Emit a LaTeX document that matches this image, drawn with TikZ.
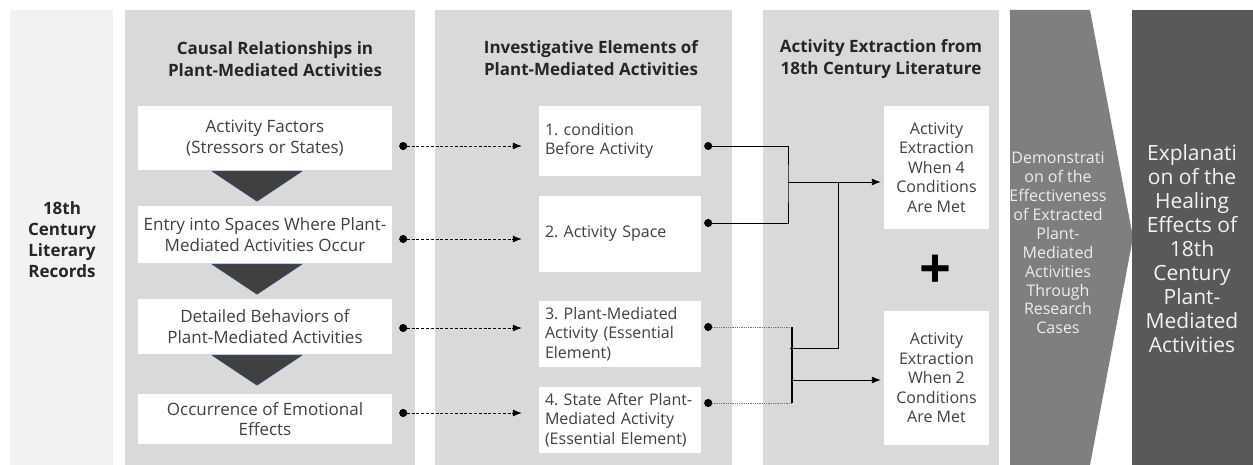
\documentclass[tikz,border=0pt]{standalone}
\usepackage{fontspec}
\setmainfont{Open Sans}
\usetikzlibrary{arrows.meta,calc}
\definecolor{sidegray}{HTML}{F2F2F2}
\definecolor{panelgray}{HTML}{D9D9D9}
\definecolor{chevrongray}{HTML}{7F7F7F}
\definecolor{outcomegray}{HTML}{595959}
\definecolor{textgray}{HTML}{404040}
\definecolor{wedgeblue}{HTML}{2F4B7C}

\begin{document}
\begin{tikzpicture}[x=1pt,y=-1pt,>=Latex]
\tikzset{title/.style={font=\bfseries\fontsize{17}{22}\selectfont,text=black!85,align=center},
  stagebox/.style={fill=white,text=textgray,align=center,inner sep=0pt,minimum width=254,font=\fontsize{17}{20.5}\selectfont},
  elembox/.style={fill=white,text=textgray,align=left,inner xsep=6,inner ysep=0pt,text width=150,font=\frenchspacing\fontsize{16}{19.5}\selectfont},
  extractbox/.style={fill=white,text=textgray,align=center,inner sep=0pt,minimum width=105,font=\fontsize{16}{19.5}\selectfont},
  wedge/.style={fill=black!75,draw=wedgeblue,line width=.6pt,line join=round},
  feed/.style={draw=black,line width=.8pt,dash pattern=on 3pt off 1.8pt,{Circle[length=8pt]}-{Latex[length=9pt,width=7pt]}},
  link/.style={draw=black,line width=.9pt},
  dotlink/.style={draw=black!55,line width=.7pt,dash pattern=on 1pt off .8pt}}
\useasboundingbox (0,0) rectangle (1253,465);
% background panels
\fill[sidegray] (10,10) rectangle (113,465);
\fill[panelgray] (125,10) rectangle (415,465);
\fill[panelgray] (435,10) rectangle (732,465);
\fill[panelgray] (763,10) rectangle (999,465);
\fill[chevrongray] (1010,10) -- (1090,10) -- (1133,237.5) -- (1090,465) -- (1010,465) -- cycle;
\fill[outcomegray] (1132,10) rectangle (1253,465);

\node[font=\bfseries\fontsize{17}{21}\selectfont,text=black!85,align=center] (src) at (62,239.5) {18th\\Century\\Literary\\Records};
\node[title] (t1) at (275,59) {Causal Relationships in\\Plant-Mediated Activities};
\node[title] (t2) at (591,58) {Investigative Elements of\\Plant-Mediated Activities};
\node[title] (t3) at (881,59) {Activity Extraction from\\18th Century Literature};

% causal chain
\node[stagebox,minimum height=64] (fA) at (265,138) {Activity Factors\\(Stressors or States)};
\node[stagebox,minimum height=57] (fB) at (265,234.5) {Entry into Spaces Where Plant-\\Mediated Activities Occur};
\node[stagebox,minimum height=55] (fC) at (265,326.5) {Detailed Behaviors of\\Plant-Mediated Activities};
\node[stagebox,minimum height=50] (fD) at (265,419) {Occurrence of Emotional\\Effects};
\foreach \u in {fA,fB,fC}
  \draw[wedge] ($(\u.south)+(-53,1)$) -- ++(90,0) -- ++(-45,30) -- cycle;

% investigative elements
\node[elembox,minimum height=70] (e1) at (620,141) {1. condition\\Before Activity};
\node[elembox,minimum height=76] (e2) at (620,234) {2. Activity Space};
\node[elembox,minimum height=66] (e3) at (620,334) {3. Plant-Mediated\\Activity (Essential\\Element)};
\node[elembox,minimum height=66] (e4) at (620,420) {4. State After Plant-\\Mediated Activity\\(Essential Element)};
\foreach \src/\dst/\dy in {fA/e1/8,fB/e2/4.5,fC/e3/1.5,fD/e4/-6}
  \draw[feed] ($(\src.east)+(7,\dy)$) -- ($(\src.east -| \dst.west)+(-17,\dy)$);

% extraction
\node[extractbox,minimum height=123] (x1) at (936.5,167.5) {Activity\\Extraction\\When 4\\Conditions\\Are Met};
\node[extractbox,minimum height=134] (x2) at (936.5,378) {Activity\\Extraction\\When 2\\Conditions\\Are Met};
\node[font=\bfseries\fontsize{56}{56}\selectfont,inner sep=0pt] (plus) at (935,272) {+};

\coordinate (j1) at (788,182);
\coordinate (j2) at (792,380);
\coordinate (k1) at (838,182);
\coordinate (k2) at (790,348);
\coordinate (d3) at ($(e3.east)+(3,-7)$);
\coordinate (d4) at ($(e4.east)+(3,-17)$);
\draw[link,{Circle[length=8pt]}-{Circle[length=8pt]}] ($(e1.east)+(3,5)$) -| (j1) |- ($(e2.east)+(3,-11)$);
\draw[link,-{Latex[length=9pt,width=7pt]},shorten >=3pt] (j1) -- (j1 -| x1.west);
\draw[link] (k1) |- (k2);
\draw[dotlink,{Circle[length=8pt,black]}-] (d3) -- (d3 -| j2);
\draw[dotlink,{Circle[length=8pt,black]}-] (d4) -- (d4 -| j2);
\draw[link,line width=1.2pt] (d3 -| j2) -- (d4 -| j2);
\draw[link,-{Latex[length=9pt,width=7pt]},shorten >=3pt] (j2) -- (j2 -| x2.west);

% outcome
\node[text=white!93!black,align=center,font=\fontsize{16}{18.9}\selectfont] (demo) at (1058,243) {Demonstrati\\on of the\\Effectiveness\\of Extracted\\Plant-\\Mediated\\Activities\\Through\\Research\\Cases};
\node[text=white!95!black,align=center,font=\fontsize{21}{24}\selectfont] (heal) at (1192,249) {Explanati\\on of the\\Healing\\Effects of\\18th\\Century\\Plant-\\Mediated\\Activities};
\end{tikzpicture}
\end{document}
